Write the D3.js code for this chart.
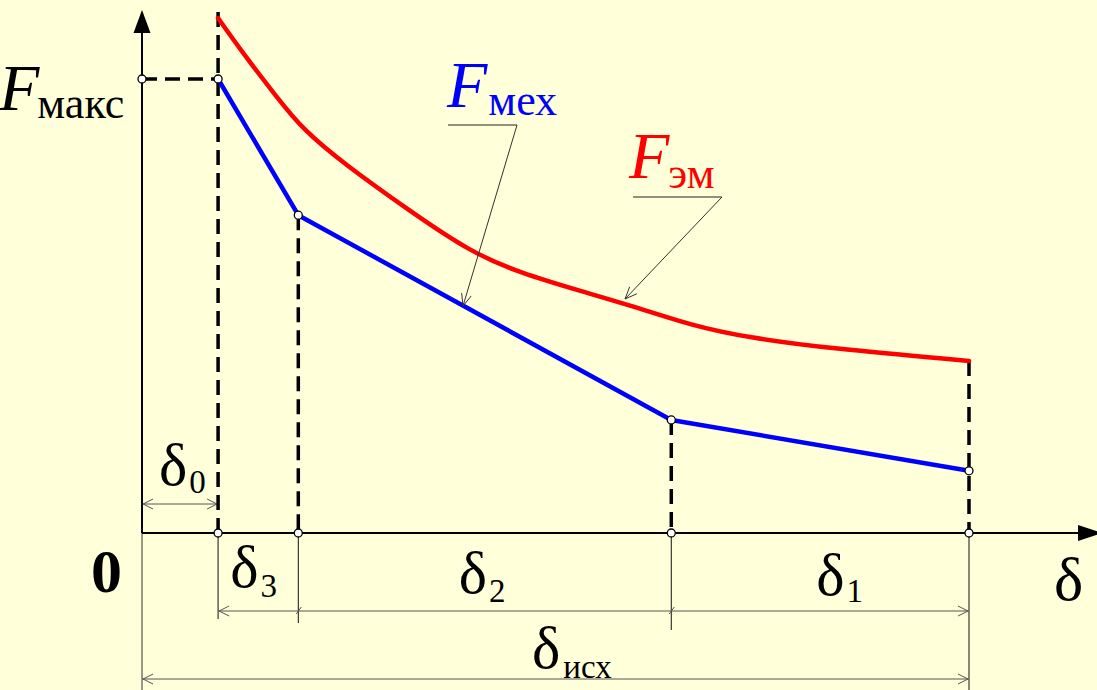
<!DOCTYPE html>
<html>
<head>
<meta charset="utf-8">
<script src="https://cdn.jsdelivr.net/npm/d3@7"></script>
<style>
  html, body { margin: 0; padding: 0; background: #FFFFD9; }
  svg { display: block; }
</style>
</head>
<body>
<svg id="chart" width="1097" height="690"></svg>
<script>
// gap values (arbitrary units): end of δ0, δ0+δ3, δ0+δ3+δ2, δисх
const breakX = [0.92, 1.89, 6.40, 10];
const fMax = 10;
// mechanical (spring) force, piecewise linear
const mechX = [0.92, 1.89, 6.40, 10];
const mechY = [10, 7.0, 2.49, 1.37];
// electromagnetic force curve
const emX = [0.92, 1.22, 1.63, 1.95, 2.43, 3.24, 3.97, 4.57, 5.30, 5.86, 6.66, 7.35, 8.28, 10];
const emY = [11.34, 10.57, 9.60, 8.88, 8.15, 7.09, 6.19, 5.73, 5.33, 5.04, 4.56, 4.30, 4.07, 3.79];
// labels
const segLabels = [
  { main: "δ", sub: "3", from: 0.92, to: 1.89 },
  { main: "δ", sub: "2", from: 1.89, to: 6.40 },
  { main: "δ", sub: "1", from: 6.40, to: 10 }
];

const serif = "'Liberation Serif', 'DejaVu Serif', serif";
const svg = d3.select("#chart");
const W = 1097, H = 690;

const x = d3.scaleLinear().domain([0, 10]).range([142, 969]);
const y = d3.scaleLinear().domain([0, 10]).range([533, 79]);
const y0 = y(0), x0 = x(0);

svg.append("rect").attr("width", W).attr("height", H).attr("fill", "#FFFFD9");

const g = svg.append("g");

// open "V" arrow head at (px,py) pointing along angle ang
function openArrow(px, py, ang, len, half, color) {
  const a1 = ang + Math.PI - Math.atan2(half, len);
  const a2 = ang + Math.PI + Math.atan2(half, len);
  const r = Math.hypot(len, half);
  g.append("path")
    .attr("d", `M${px + r * Math.cos(a1)},${py + r * Math.sin(a1)}L${px},${py}L${px + r * Math.cos(a2)},${py + r * Math.sin(a2)}`)
    .attr("fill", "none").attr("stroke", color).attr("stroke-width", 1);
}

function dimLine(xa, xb, yy, color) {
  g.append("line").attr("x1", xa).attr("x2", xb).attr("y1", yy).attr("y2", yy)
    .attr("stroke", color).attr("stroke-width", 1);
}

// extension lines below the axis
const extEnds = [619, 623, 630, 690];
breakX.forEach((b, i) => {
  g.append("line").attr("x1", x(b)).attr("x2", x(b)).attr("y1", y0).attr("y2", extEnds[i])
    .attr("stroke", "#111").attr("stroke-width", 1);
});
g.append("line").attr("x1", x0).attr("x2", x0).attr("y1", y0).attr("y2", H)
  .attr("stroke", "#333").attr("stroke-width", 1);

// dimension lines
const dimColor = "#555";
// δ0
dimLine(x0, x(breakX[0]), 504, dimColor);
openArrow(x0 + 1, 504, Math.PI, 10, 5, dimColor);
openArrow(x(breakX[0]) - 1, 504, 0, 10, 5, dimColor);
// chain δ3, δ2, δ1
dimLine(x(breakX[0]), x(breakX[3]), 611, dimColor);
openArrow(x(breakX[0]) + 1, 611, Math.PI, 10, 5, dimColor);
openArrow(x(breakX[3]) - 1, 611, 0, 10, 5, dimColor);
[breakX[1], breakX[2]].forEach(b => {
  g.append("line").attr("x1", x(b) - 2).attr("x2", x(b) + 3).attr("y1", 614).attr("y2", 607)
    .attr("stroke", dimColor).attr("stroke-width", 1);
});
// δисх
dimLine(x0, x(breakX[3]), 679, dimColor);
openArrow(x0 + 1, 679, Math.PI, 10, 5, dimColor);
openArrow(x(breakX[3]) - 1, 679, 0, 10, 5, dimColor);

// dashed guide lines
const dash = "15,8";
function dashed(x1, y1, x2, y2) {
  g.append("line").attr("x1", x1).attr("y1", y1).attr("x2", x2).attr("y2", y2)
    .attr("stroke", "#000").attr("stroke-width", 3.5).attr("stroke-dasharray", dash);
}
dashed(x0, y(fMax), x(breakX[0]), y(fMax));
dashed(x(breakX[0]), 12, x(breakX[0]), y0);
dashed(x(mechX[1]), y(mechY[1]), x(mechX[1]), y0);
dashed(x(mechX[2]), y(mechY[2]), x(mechX[2]), y0);
dashed(x(breakX[3]), y(emY[emY.length - 1]), x(breakX[3]), y0);

// axes
g.append("line").attr("x1", x0).attr("x2", 1080).attr("y1", y0).attr("y2", y0)
  .attr("stroke", "#000").attr("stroke-width", 2);
g.append("path").attr("d", `M1078,${y0 - 8}L1102,${y0}L1078,${y0 + 8}Z`).attr("fill", "#000");
g.append("line").attr("x1", x0).attr("x2", x0).attr("y1", y0).attr("y2", 30)
  .attr("stroke", "#000").attr("stroke-width", 2);
g.append("path").attr("d", `M${x0 - 8.5},33L${x0},10L${x0 + 8.5},33Z`).attr("fill", "#000");

// curves
const emLine = d3.line().x(d => x(d[0])).y(d => y(d[1])).curve(d3.curveBasis);
g.append("path").datum(d3.zip(emX, emY)).attr("d", emLine)
  .attr("fill", "none").attr("stroke", "#FF0000").attr("stroke-width", 4.5).attr("stroke-linecap", "round");
const mechLine = d3.line().x(d => x(d[0])).y(d => y(d[1]));
g.append("path").datum(d3.zip(mechX, mechY)).attr("d", mechLine)
  .attr("fill", "none").attr("stroke", "#0000FF").attr("stroke-width", 4.5).attr("stroke-linejoin", "round");

// marker circles
const pts = [[0, fMax]].concat(d3.zip(mechX, mechY)).concat(breakX.map(b => [b, 0]));
g.selectAll("circle.pt").data(pts).enter().append("circle").attr("class", "pt")
  .attr("cx", d => x(d[0])).attr("cy", d => y(d[1])).attr("r", 4)
  .attr("fill", "#fff").attr("stroke", "#000").attr("stroke-width", 1.3);

// text helper: main glyph plus subscript
function label(px, py, main, sub, o) {
  const t = svg.append("text").attr("x", px).attr("y", py)
    .attr("font-family", serif).attr("fill", o.color || "#000");
  t.append("tspan").attr("font-size", o.size).attr("font-style", o.italic ? "italic" : null)
    .attr("font-weight", o.bold ? "bold" : null).text(main);
  if (sub) {
    t.append("tspan").attr("font-size", o.subSize).attr("dx", o.dx || 0).attr("dy", o.dy || 0)
      .attr("font-style", "normal").text(sub);
  }
  return t;
}

label(-1, 110, "F", "макс", { size: 66, subSize: 44, italic: true, dx: -2, dy: 8 });
label(447, 107, "F", "мех", { size: 66, subSize: 44, italic: true, dx: 1, dy: 8, color: "#0000FF" });
label(629, 178, "F", "эм", { size: 66, subSize: 44, italic: true, dx: -1, dy: 10, color: "#FF0000" });

// leaders for curve names
function leader(xa, xb, yy, tx, ty) {
  g.append("line").attr("x1", xa).attr("x2", xb).attr("y1", yy).attr("y2", yy)
    .attr("stroke", "#222").attr("stroke-width", 1);
  g.append("line").attr("x1", xb).attr("y1", yy).attr("x2", tx).attr("y2", ty)
    .attr("stroke", "#333").attr("stroke-width", 1);
  openArrow(tx, ty, Math.atan2(ty - yy, tx - xb), 12, 5, "#333");
}
leader(448, 517, 125, 463, 306);
leader(633, 722, 197, 625, 299);

// gap labels
label(159, 485, "δ", "0", { size: 60, subSize: 33, dx: 2, dy: 8 });
const segOffsets = [-28, -26, -4];
const segBase = [587, 593, 595];
const segDy = [10, 9, 7];
segLabels.forEach((s, i) => {
  const cx = (x(s.from) + x(s.to)) / 2;
  label(cx + segOffsets[i], segBase[i], s.main, s.sub, { size: 60, subSize: 33, dx: 2, dy: segDy[i] });
});
label(532, 668, "δ", "исх", { size: 60, subSize: 33, dx: 3, dy: 10 });
label(1054, 600, "δ", null, { size: 62 });
label(91, 592, "0", null, { size: 62, bold: true });
</script>
</body>
</html>
